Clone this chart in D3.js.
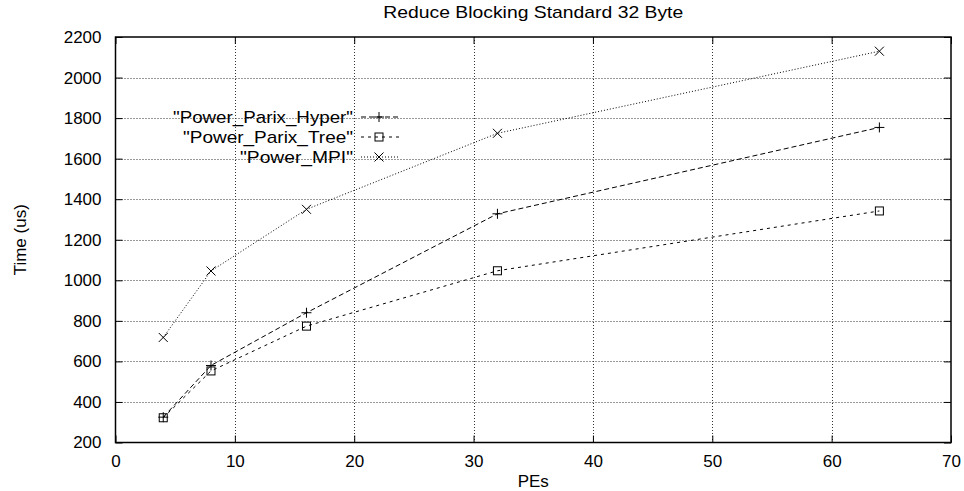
<!DOCTYPE html>
<html>
<head>
<meta charset="utf-8">
<script src="https://cdn.jsdelivr.net/npm/d3@7"></script>
<style>
  body { margin: 0; background: #fff; }
  text { font-family: "Liberation Sans", Arial, sans-serif; fill: #000; }
</style>
</head>
<body>
<script>
// data
var pes = [4, 8, 16, 32, 64];
var hyper = [325, 580, 840, 1328, 1754];
var tree = [322, 553, 774, 1047, 1342];
var mpi = [718, 1046, 1350, 1725, 2130];
var seriesNames = ['"Power_Parix_Hyper"', '"Power_Parix_Tree"', '"Power_MPI"'];
var xTicks = [0, 10, 20, 30, 40, 50, 60, 70];
var yTicks = [200, 400, 600, 800, 1000, 1200, 1400, 1600, 1800, 2000, 2200];

var width = 964, height = 491;
var pl = 115.5, pr = 951, pt = 37, pb = 442.5;

var svg = d3.select("body").append("svg")
  .attr("width", width)
  .attr("height", height);

var x = d3.scaleLinear().domain([0, 70]).range([pl, pr]);
var y = d3.scaleLinear().domain([200, 2200]).range([pb, pt]);

var fs = 17;

// grid
var grid = svg.append("g").attr("class", "grid");
grid.selectAll("line.gy")
  .data(yTicks.slice(1, -1))
  .enter().append("line")
    .attr("x1", pl).attr("x2", pr)
    .attr("y1", function(d) { return Math.round(y(d)) + 0.5; })
    .attr("y2", function(d) { return Math.round(y(d)) + 0.5; })
    .attr("stroke", "#333")
    .attr("stroke-dasharray", "1,2");
grid.selectAll("line.gx")
  .data(xTicks.slice(1, -1))
  .enter().append("line")
    .attr("y1", pt).attr("y2", pb)
    .attr("x1", function(d) { return Math.round(x(d)) + 0.5; })
    .attr("x2", function(d) { return Math.round(x(d)) + 0.5; })
    .attr("stroke", "#333")
    .attr("stroke-dasharray", "1,2");

// axes: ticks inward on all four sides
var tick = 7;
svg.append("g")
  .attr("transform", "translate(0," + pb + ")")
  .call(d3.axisBottom(x).tickValues(xTicks).tickFormat(d3.format("d"))
    .tickSizeInner(-tick).tickSizeOuter(0).tickPadding(12))
  .call(function(g) {
    g.select(".domain").remove();
    g.selectAll("text").attr("font-size", fs).attr("font-family", null);
  });
svg.append("g")
  .attr("transform", "translate(" + pl + ",0)")
  .call(d3.axisLeft(y).tickValues(yTicks).tickFormat(d3.format("d"))
    .tickSizeInner(-tick).tickSizeOuter(0).tickPadding(14))
  .call(function(g) {
    g.select(".domain").remove();
    g.selectAll("text").attr("font-size", fs).attr("font-family", null);
  });
svg.append("g")
  .attr("transform", "translate(0," + pt + ")")
  .call(d3.axisTop(x).tickValues(xTicks).tickSizeInner(-tick).tickSizeOuter(0).tickFormat(""))
  .call(function(g) { g.select(".domain").remove(); });
svg.append("g")
  .attr("transform", "translate(" + pr + ",0)")
  .call(d3.axisRight(y).tickValues(yTicks).tickSizeInner(-tick).tickSizeOuter(0).tickFormat(""))
  .call(function(g) { g.select(".domain").remove(); });

svg.append("rect")
  .attr("x", pl).attr("y", pt)
  .attr("width", pr - pl).attr("height", pb - pt)
  .attr("fill", "none")
  .attr("stroke", "#000")
  .attr("stroke-width", 1.5);

// titles
svg.append("text")
  .attr("x", (pl + pr) / 2).attr("y", 18)
  .attr("text-anchor", "middle")
  .attr("font-size", fs)
  .attr("textLength", 300)
  .attr("lengthAdjust", "spacingAndGlyphs")
  .text("Reduce Blocking Standard 32 Byte");
svg.append("text")
  .attr("x", (pl + pr) / 2).attr("y", 487)
  .attr("text-anchor", "middle")
  .attr("font-size", fs)
  .text("PEs");
svg.append("text")
  .attr("transform", "translate(26," + (pt + pb) / 2 + ") rotate(-90)")
  .attr("text-anchor", "middle")
  .attr("font-size", fs)
  .text("Time (us)");

// series
var series = [
  { name: seriesNames[0], values: hyper, dash: "5,3", mark: "plus", len: 180 },
  { name: seriesNames[1], values: tree, dash: "3,4", mark: "square", len: 170 },
  { name: seriesNames[2], values: mpi, dash: "1,2", mark: "cross", len: 113 }
];

var line = d3.line()
  .x(function(d) { return x(d[0]); })
  .y(function(d) { return y(d[1]); });

function drawMark(g, type, cx, cy) {
  if (type == "plus") {
    g.append("path")
      .attr("d", "M" + (cx - 5) + "," + cy + "H" + (cx + 5) + "M" + cx + "," + (cy - 5) + "V" + (cy + 5))
      .attr("stroke", "#000").attr("fill", "none");
  } else if (type == "square") {
    g.append("rect")
      .attr("x", cx - 4).attr("y", cy - 4)
      .attr("width", 8).attr("height", 8)
      .attr("stroke", "#000").attr("fill", "none");
  } else {
    g.append("path")
      .attr("d", "M" + (cx - 4.5) + "," + (cy - 4.5) + "L" + (cx + 4.5) + "," + (cy + 4.5)
        + "M" + (cx - 4.5) + "," + (cy + 4.5) + "L" + (cx + 4.5) + "," + (cy - 4.5))
      .attr("stroke", "#000").attr("fill", "none");
  }
}

var legY = [117, 137, 157];
series.forEach(function(s, i) {
  var pts = pes.map(function(p, j) { return [p, s.values[j]]; });
  var g = svg.append("g");
  g.append("path")
    .datum(pts)
    .attr("d", line)
    .attr("fill", "none")
    .attr("stroke", "#000")
    .attr("stroke-dasharray", s.dash);
  pts.forEach(function(p) { drawMark(g, s.mark, x(p[0]), y(p[1])); });

  // legend
  svg.append("text")
    .attr("x", 353).attr("y", legY[i])
    .attr("dy", "0.35em")
    .attr("text-anchor", "end")
    .attr("font-size", fs)
    .attr("textLength", s.len)
    .attr("lengthAdjust", "spacingAndGlyphs")
    .text(s.name);
  svg.append("line")
    .attr("x1", 361).attr("x2", 400)
    .attr("y1", legY[i]).attr("y2", legY[i])
    .attr("stroke", "#000")
    .attr("stroke-dasharray", s.dash);
  drawMark(svg, s.mark, 379, legY[i]);
});
</script>
</body>
</html>
